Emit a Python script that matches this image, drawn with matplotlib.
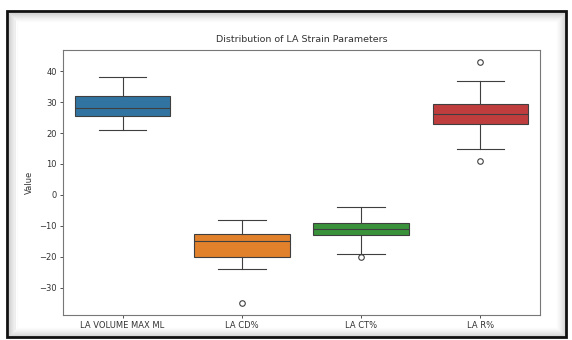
import numpy as np
import matplotlib
matplotlib.use("Agg")
import matplotlib.pyplot as plt
from matplotlib.patches import Rectangle

# box statistics
labels = ["LA VOLUME MAX ML", "LA CD%", "LA CT%", "LA R%"]
whislo = [21, -24, -19, 15]
q1 = [25.5, -20, -13, 23]
med = [28, -15, -11, 26.3]
q3 = [32, -12.6, -9, 29.5]
whishi = [38, -8, -4, 37]
fliers = [[], [-35], [-20], [43, 11]]

colors = ["#3274a1", "#e1812c", "#3a923a", "#c03d3e"]
edge = "#3f3f3f"

W, H = 572, 340
fig = plt.figure(figsize=(W / 100, H / 100), dpi=100)
ax = fig.add_axes([63 / W, 1 - 315 / H, (540 - 63) / W, (315 - 50) / H])

stats = []
for i in range(len(labels)):
    stats.append(dict(label=labels[i], whislo=whislo[i], q1=q1[i], med=med[i],
                      q3=q3[i], whishi=whishi[i], fliers=fliers[i]))

bp = ax.bxp(stats, positions=np.arange(len(labels)), widths=0.8,
            patch_artist=True, showfliers=True,
            boxprops=dict(edgecolor=edge, linewidth=0.8),
            medianprops=dict(color=edge, linewidth=0.8),
            whiskerprops=dict(color=edge, linewidth=0.8),
            capprops=dict(color=edge, linewidth=0.8),
            flierprops=dict(marker="o", markerfacecolor="none",
                            markeredgecolor=edge, markersize=4, markeredgewidth=0.8))
for patch, c in zip(bp["boxes"], colors):
    patch.set_facecolor(c)

for cap in bp["caps"]:
    xa, xb = cap.get_xdata()
    xc = (xa + xb) / 2
    cap.set_xdata([xc - 0.2, xc + 0.2])

ax.set_xlim(-0.5, len(labels) - 0.5)
ax.set_ylim(-38.9, 46.9)
ax.set_yticks([-30, -20, -10, 0, 10, 20, 30, 40])
ax.set_xticks(np.arange(len(labels)))
ax.set_xticklabels(labels)
ax.tick_params(labelsize=6, colors="#333333", length=2.5, width=0.6, pad=2)
for s in ax.spines.values():
    s.set_color("#777777")
    s.set_linewidth(0.8)
ax.set_ylabel("Value", fontsize=6, color="#333333", labelpad=4)
ax.set_title("Distribution of LA Strain Parameters", fontsize=6.8, color="#333333", pad=6)

# screenshot frame with soft inner shadow
x0, y0, x1, y1 = 7, 11, 566, 337
for k in range(10):
    off = 1.5 + k
    a = 0.16 * (1 - k / 10) ** 1.5
    fig.patches.append(Rectangle(((x0 + off) / W, 1 - (y1 - off) / H),
                                 (x1 - x0 - 2 * off) / W, (y1 - y0 - 2 * off) / H,
                                 transform=fig.transFigure, fill=False,
                                 edgecolor="black", alpha=a, linewidth=0.8))
fig.patches.append(Rectangle((x0 / W, 1 - y1 / H), (x1 - x0) / W, (y1 - y0) / H,
                             transform=fig.transFigure, fill=False,
                             edgecolor="#111111", linewidth=2.0))

fig.savefig("out.png", dpi=100)
